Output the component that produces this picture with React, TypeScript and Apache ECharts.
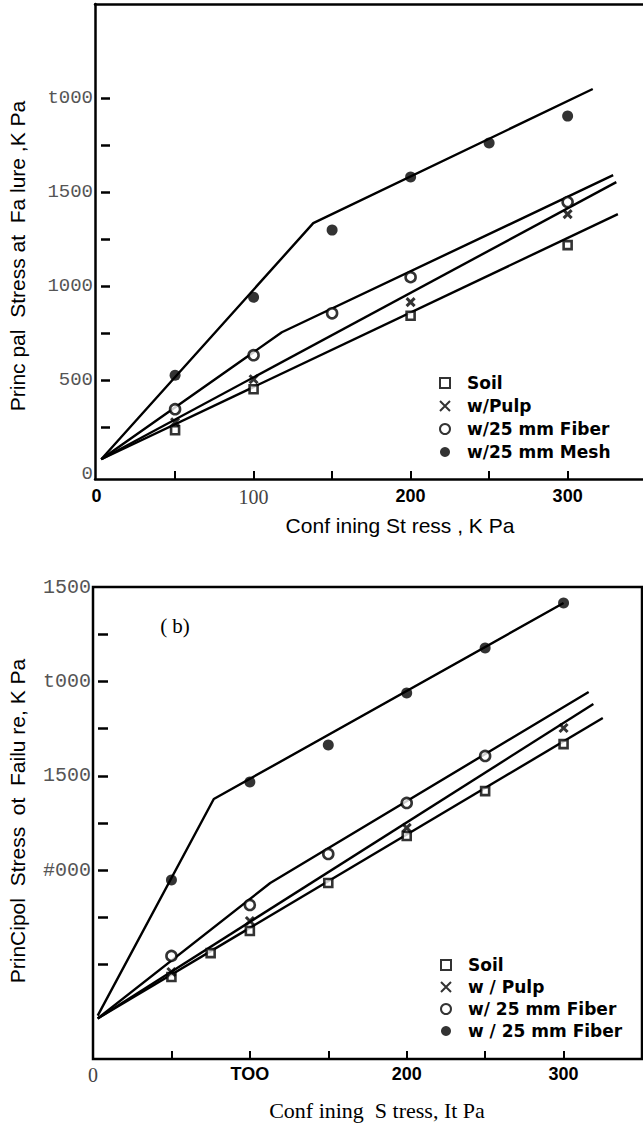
import React, { useEffect, useRef } from 'react';
import * as echarts from 'echarts';

// ---------- Data: panel (a) ----------
const soilA = [[50, 234], [100, 452], [200, 843], [300, 1218]];
const pulpA = [[50, 277], [100, 505], [200, 915], [300, 1383]];
const fiberA = [[50, 346], [100, 633], [150, 856], [200, 1048], [300, 1447]];
const meshA = [[50, 527], [100, 941], [150, 1298], [200, 1580], [250, 1761], [300, 1904]];
const soilFitA = [[3, 80], [332, 1383]];
const pulpFitA = [[3, 80], [331, 1553]];
const fiberFitA = [[3, 80], [118, 755], [329, 1590]];
const meshFitA = [[3, 80], [138, 1335], [316, 2048]];
const legendA = ['Soil', 'w/Pulp', 'w/25 mm Fiber', 'w/25 mm Mesh'];
const yLabelsA: Record<number, string> = { 0: '0', 500: '500', 1000: '1000', 1500: '1500', 2000: 't000' };
const xLabelsA: Record<number, string> = { 0: '{b|0}', 100: '{s|100}', 200: '{b|200}', 300: '{b|300}' };

// ---------- Data: panel (b) ----------
const soilB = [[50, 434], [75, 561], [100, 678], [150, 932], [200, 1181], [250, 1419], [300, 1668]];
const pulpB = [[50, 461], [100, 731], [200, 1224], [300, 1753]];
const fiberB = [[50, 546], [100, 816], [150, 1086], [200, 1356], [250, 1605]];
const meshB = [[50, 948], [100, 1467], [150, 1663], [200, 1938], [250, 2177], [300, 2415]];
const soilFitB = [[3, 215], [325, 1806]];
const pulpFitB = [[3, 215], [319, 1880]];
const fiberFitB = [[3, 215], [113, 932], [316, 1944]];
const meshFitB = [[3, 230], [77, 1377], [300, 2415]];
const legendB = ['Soil', 'w / Pulp', 'w/ 25 mm Fiber', 'w / 25 mm Fiber'];
const yLabelsB: Record<number, string> = { 1000: '#000', 1500: '1500', 2000: 't000', 2500: '1500' };
const xLabelsB: Record<number, string> = { 0: '{s|0}', 100: '{b|TOO}', 200: '{b|200}', 300: '{b|300}' };

const xTicks = [50, 100, 150, 200, 250, 300];
const yTicksA = [250, 500, 750, 1000, 1250, 1500, 1750, 2000];
const yTicksB = [500, 750, 1000, 1250, 1500, 1750, 2000, 2250];

const BLACK = '#000';
const XPATH = 'path://M0,0L10,10M10,0L0,10';

const markerStyles = [
  { symbol: 'rect', symbolSize: 8, itemStyle: { color: '#fff', borderColor: BLACK, borderWidth: 2.6 } },
  { symbol: XPATH, symbolSize: 8, itemStyle: { color: BLACK, borderColor: BLACK, borderWidth: 3 } },
  { symbol: 'circle', symbolSize: 10, itemStyle: { color: '#fff', borderColor: BLACK, borderWidth: 2.6 } },
  { symbol: 'circle', symbolSize: 11, itemStyle: { color: BLACK, borderColor: BLACK, borderWidth: 0 } },
];

function fitSeries(data: number[][], idx: number, name: string) {
  return {
    type: 'line', name, xAxisIndex: idx * 2, yAxisIndex: idx * 2, data,
    showSymbol: false, symbol: 'none', silent: true, z: 2,
    lineStyle: { color: BLACK, width: 2.4 },
  };
}
function pointSeries(data: number[][], idx: number, name: string, m: number) {
  return {
    type: 'scatter', name, xAxisIndex: idx * 2, yAxisIndex: idx * 2, data, z: 5,
    ...markerStyles[m],
  };
}

const xRich = {
  b: { fontFamily: 'Liberation Sans', fontWeight: 'bold', fontSize: 18, color: BLACK },
  s: { fontFamily: 'Liberation Serif', fontSize: 20, color: '#444' },
};
const yLabelStyle = { fontFamily: 'Liberation Mono', fontSize: 19, color: '#555', margin: 2 };

const legendText = {
  fontFamily: 'DejaVu Sans', fontWeight: 'bold', fontSize: 17, color: BLACK,
  lineHeight: 18, padding: [0, 0, 0, 12],
};

export default function App() {
  const ref = useRef<HTMLDivElement>(null);
  useEffect(() => {
    document.body.style.margin = '0';
    const chart = echarts.init(ref.current!, null, { renderer: 'svg' });
    const namesA = legendA.map((n) => 'a::' + n);
    const namesB = legendB.map((n) => 'b::' + n);
    const option: any = {
      animation: false,
      backgroundColor: '#fff',
      grid: [
        { left: 95, top: 4, right: 0, bottom: 644, containLabel: false },
        { left: 93, top: 587, right: 1, bottom: 64, show: true, borderColor: BLACK, borderWidth: 2.5, backgroundColor: 'transparent' },
      ],
      xAxis: [
        {
          gridIndex: 0, type: 'value', min: -1, max: 348, position: 'bottom',
          splitLine: { show: false },
          axisLine: { show: true, onZero: false, lineStyle: { color: BLACK, width: 2.5 } },
          axisTick: { show: true, inside: true, length: 8, customValues: xTicks, lineStyle: { color: BLACK, width: 2 } },
          axisLabel: { customValues: [0, 100, 200, 300], margin: 8, formatter: (v: number) => xLabelsA[v] ?? '', rich: xRich },
        },
        {
          gridIndex: 0, type: 'value', min: -1, max: 348, position: 'top',
          splitLine: { show: false },
          axisLine: { show: true, onZero: false, lineStyle: { color: BLACK, width: 2.5 } },
          axisTick: { show: false }, axisLabel: { show: false },
        },
        {
          gridIndex: 1, type: 'value', min: 0, max: 350, position: 'bottom',
          splitLine: { show: false },
          axisLine: { show: false },
          axisTick: { show: true, inside: true, length: 8, customValues: xTicks, lineStyle: { color: BLACK, width: 2 } },
          axisLabel: { customValues: [0, 100, 200, 300], margin: 6, formatter: (v: number) => xLabelsB[v] ?? '', rich: xRich },
        },
        {
          gridIndex: 1, type: 'value', min: 0, max: 350, position: 'top', show: false,
        },
      ],
      yAxis: [
        {
          gridIndex: 0, type: 'value', min: -25, max: 2500, position: 'left',
          splitLine: { show: false },
          axisLine: { show: true, onZero: false, lineStyle: { color: BLACK, width: 2.5 } },
          axisTick: { show: false },
          axisLabel: { ...yLabelStyle, customValues: [0, 500, 1000, 1500, 2000], formatter: (v: number) => yLabelsA[v] ?? '' },
        },
        {
          gridIndex: 0, type: 'value', min: -25, max: 2500, position: 'left', offset: -6,
          splitLine: { show: false }, axisLine: { show: false }, axisLabel: { show: false },
          axisTick: { show: true, inside: true, length: 9, customValues: yTicksA, lineStyle: { color: BLACK, width: 2.5 } },
        },
        {
          gridIndex: 1, type: 'value', min: 0, max: 2500, position: 'left',
          splitLine: { show: false },
          axisLine: { show: false },
          axisTick: { show: false },
          axisLabel: { ...yLabelStyle, fontSize: 20, customValues: [1000, 1500, 2000, 2500], formatter: (v: number) => yLabelsB[v] ?? '' },
        },
        {
          gridIndex: 1, type: 'value', min: 0, max: 2500, position: 'left', offset: -5,
          splitLine: { show: false }, axisLine: { show: false }, axisLabel: { show: false },
          axisTick: { show: true, inside: true, length: 10, customValues: yTicksB, lineStyle: { color: BLACK, width: 2.5 } },
        },
      ],
      legend: [
        {
          orient: 'vertical', left: 434, top: 369, itemWidth: 10, itemHeight: 10, itemGap: 5,
          selectedMode: false, data: namesA, formatter: (n: string) => n.split('::')[1], textStyle: legendText,
        },
        {
          orient: 'vertical', left: 435, top: 951, itemWidth: 10, itemHeight: 10, itemGap: 4,
          selectedMode: false, data: namesB, formatter: (n: string) => n.split('::')[1], textStyle: legendText,
        },
      ],
      graphic: [
        {
          type: 'text', x: 17, y: 256, rotation: Math.PI / 2,
          style: { text: 'Princ pal  Stress at  Fa lure ,K Pa', fontFamily: 'Liberation Sans', fontSize: 21, fill: BLACK, align: 'center', verticalAlign: 'middle' },
        },
        {
          type: 'text', x: 400, y: 525,
          style: { text: 'Conf ining St ress , K Pa', fontFamily: 'Liberation Sans', fontSize: 21, fill: BLACK, align: 'center', verticalAlign: 'middle' },
        },
        {
          type: 'text', x: 17, y: 821, rotation: Math.PI / 2,
          style: { text: 'PrinCipol  Stress  ot  Failu re, K Pa', fontFamily: 'Liberation Sans', fontSize: 21, fill: BLACK, align: 'center', verticalAlign: 'middle' },
        },
        {
          type: 'text', x: 377, y: 1110,
          style: { text: 'Conf ining  S tress, It Pa', fontFamily: 'Liberation Serif', fontSize: 22, fill: BLACK, align: 'center', verticalAlign: 'middle' },
        },
        {
          type: 'text', x: 175, y: 626,
          style: { text: '( b)', fontFamily: 'Liberation Serif', fontSize: 21, fill: BLACK, align: 'center', verticalAlign: 'middle' },
        },
      ],
      series: [
        fitSeries(soilFitA, 0, 'fitA0'),
        fitSeries(pulpFitA, 0, 'fitA1'),
        fitSeries(fiberFitA, 0, 'fitA2'),
        fitSeries(meshFitA, 0, 'fitA3'),
        pointSeries(soilA, 0, namesA[0], 0),
        pointSeries(pulpA, 0, namesA[1], 1),
        pointSeries(fiberA, 0, namesA[2], 2),
        pointSeries(meshA, 0, namesA[3], 3),
        fitSeries(soilFitB, 1, 'fitB0'),
        fitSeries(pulpFitB, 1, 'fitB1'),
        fitSeries(fiberFitB, 1, 'fitB2'),
        fitSeries(meshFitB, 1, 'fitB3'),
        pointSeries(soilB, 1, namesB[0], 0),
        pointSeries(pulpB, 1, namesB[1], 1),
        pointSeries(fiberB, 1, namesB[2], 2),
        pointSeries(meshB, 1, namesB[3], 3),
      ],
    };
    chart.setOption(option);
    return () => chart.dispose();
  }, []);
  return <div ref={ref} style={{ width: 643, height: 1123 }} />;
}
